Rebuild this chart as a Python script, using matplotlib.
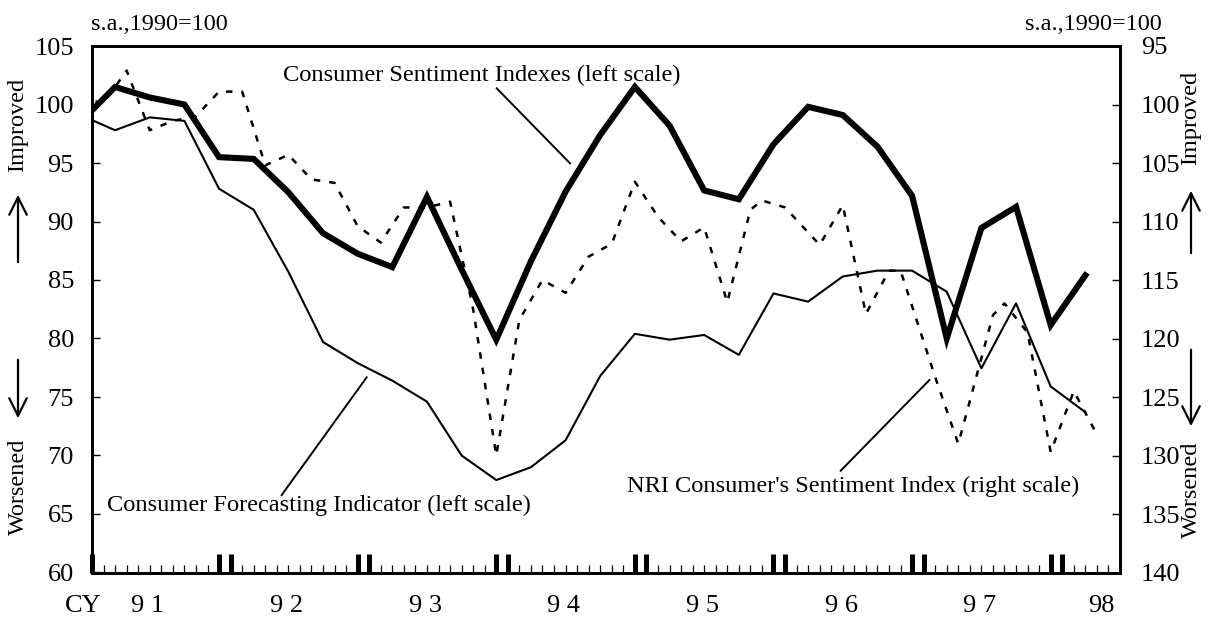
import matplotlib
matplotlib.use("Agg")
import matplotlib.pyplot as plt
from matplotlib.patches import FancyArrowPatch

plt.rcParams['font.family'] = ['Liberation Serif', 'DejaVu Serif']

# ---- data (month index: 0 = Jan 1991) ----
q_month = list(range(-1, 87, 3))
sentiment = [98.5, 101.5, 100.6, 100.0, 95.5, 95.35, 92.5, 89.0, 87.25, 86.1,
             92.1, 85.9, 79.9, 86.6, 92.55, 97.4, 101.5, 98.2, 92.65, 91.9,
             96.6, 99.8, 99.1, 96.4, 92.2, 80.0, 89.45, 91.25, 81.15, 85.4]
forecasting = [99.1, 97.8, 98.9, 98.6, 92.8, 91.0, 85.7, 79.7, 77.9, 76.4,
               74.6, 70.0, 67.9, 69.0, 71.3, 76.8, 80.4, 79.9, 80.3, 78.6,
               83.85, 83.15, 85.3, 85.8, 85.8, 84.0, 77.45, 83.0, 75.9, 73.7]
nri_month = [-1, 1, 3, 5, 7, 9, 11, 13, 15, 17, 19, 21, 23, 25, 27, 29, 31, 33,
             35, 37, 39, 41, 43, 45, 47, 49, 51, 53, 55, 57, 58, 60, 63, 65, 67,
             69, 70, 73, 75, 78, 79, 81, 83, 85, 87]
nri = [99.4, 99.9, 97.1, 102.2, 101.4, 101.0, 98.9, 98.9, 105.2, 104.3, 106.4,
       106.7, 110.4, 111.8, 108.8, 108.8, 108.3, 117.5, 130.0, 118.4, 115.0,
       116.1, 113.0, 111.9, 106.6, 109.6, 111.7, 110.5, 116.9, 109.0, 108.2,
       108.8, 112.0, 108.6, 117.9, 114.2, 114.2, 123.3, 129.0, 118.0, 117.0,
       119.5, 129.7, 124.5, 128.2]
year_labels = ['9 1', '9 2', '9 3', '9 4', '9 5', '9 6', '9 7', '98']
left_ticks = [60, 65, 70, 75, 80, 85, 90, 95, 100, 105]
right_ticks = [95, 100, 105, 110, 115, 120, 125, 130, 135, 140]

W, H = 1209, 622
fig = plt.figure(figsize=(W / 100, H / 100), dpi=100)
x0, x1, ytop, ybot = 92, 1120, 46, 572.5
ax = fig.add_axes([x0 / W, 1 - ybot / H, (x1 - x0) / W, (ybot - ytop) / H])
ax2 = ax.twinx()

ax.set_xlim(0, 89)
ax.set_ylim(60, 105)
ax2.set_ylim(140, 95)

ax.plot(q_month, sentiment, color='black', lw=4.4, solid_joinstyle='miter', zorder=3)
ax.plot(q_month, forecasting, color='black', lw=1.5, zorder=3)
ax2.plot(nri_month, nri, color='black', lw=1.8, linestyle=(0, (2.6, 3.6)), zorder=3)

for a in (ax, ax2):
    for s in a.spines.values():
        s.set_linewidth(2.0)

fs = 19
ax.set_yticks(left_ticks)
ax.tick_params(axis='y', direction='in', length=6, width=1.0, pad=13, labelsize=fs)
ax2.set_yticks(right_ticks)
ax2.tick_params(axis='y', direction='in', length=6, width=1.0, pad=15, labelsize=fs)

thick = [0] + [v for k in range(1, 8) for v in (12 * k - 1, 12 * k)]
thin = [m for m in range(1, 89) if m not in thick]
ax.set_xticks(thick)
ax.set_xticks(thin, minor=True)
ax.tick_params(axis='x', which='major', direction='in', length=14, width=3.6,
               labelbottom=False)
ax.tick_params(axis='x', which='minor', direction='in', length=6, width=0.9)

# x labels
ytxt = 60 - (606 - ybot) / 11.7
ax.text(-0.8, ytxt, 'CY', ha='center', va='center', fontsize=fs, clip_on=False)
for k, lab in enumerate(year_labels):
    xp = 4.85 + 12 * k if lab != '98' else 87.4
    ax.text(xp, ytxt, lab, ha='center', va='center', fontsize=fs, clip_on=False)

# annotations
afs = 17.6
ax.text(16.5, 102.5, 'Consumer Sentiment Indexes (left scale)', fontsize=afs,
        ha='left', va='center')
ax.plot([35.04, 41.39], [101.38, 94.97], color='black', lw=1.4)
ax.text(1.27, 65.77, 'Consumer Forecasting Indicator (left scale)', fontsize=afs,
        ha='left', va='center')
ax.plot([16.42, 23.78], [66.62, 76.68], color='black', lw=1.4)
ax.text(46.3, 67.33, "NRI Consumer's Sentiment Index (right scale)", fontsize=afs,
        ha='left', va='center')
ax.plot([64.82, 72.5], [68.7, 76.45], color='black', lw=1.4)

# header units
fig.text(91 / W, 1 - 25 / H, 's.a.,1990=100', fontsize=17.5, ha='left', va='center')
fig.text(1025 / W, 1 - 25 / H, 's.a.,1990=100', fontsize=17.5, ha='left', va='center')

# side labels
def side(xp, yc_imp, yc_wor, arr_up, arr_dn):
    fig.text(xp / W, 1 - yc_imp / H, 'Improved', rotation=90, fontsize=17.5,
             ha='center', va='center')
    fig.text(xp / W, 1 - yc_wor / H, 'Worsened', rotation=90, fontsize=17.5,
             ha='center', va='center')
    for (ya, yb) in (arr_up, arr_dn):
        p = FancyArrowPatch((xp / W, 1 - ya / H), (xp / W, 1 - yb / H),
                            transform=fig.transFigure,
                            arrowstyle='->,head_length=0.9,head_width=0.45',
                            mutation_scale=14, lw=1.6, color='black')
        fig.patches.append(p)

side(18, 125, 487, (265, 192), (357, 421))
side(1191, 118, 490, (256, 188), (347, 429))

fig.savefig('out.png', dpi=100)
